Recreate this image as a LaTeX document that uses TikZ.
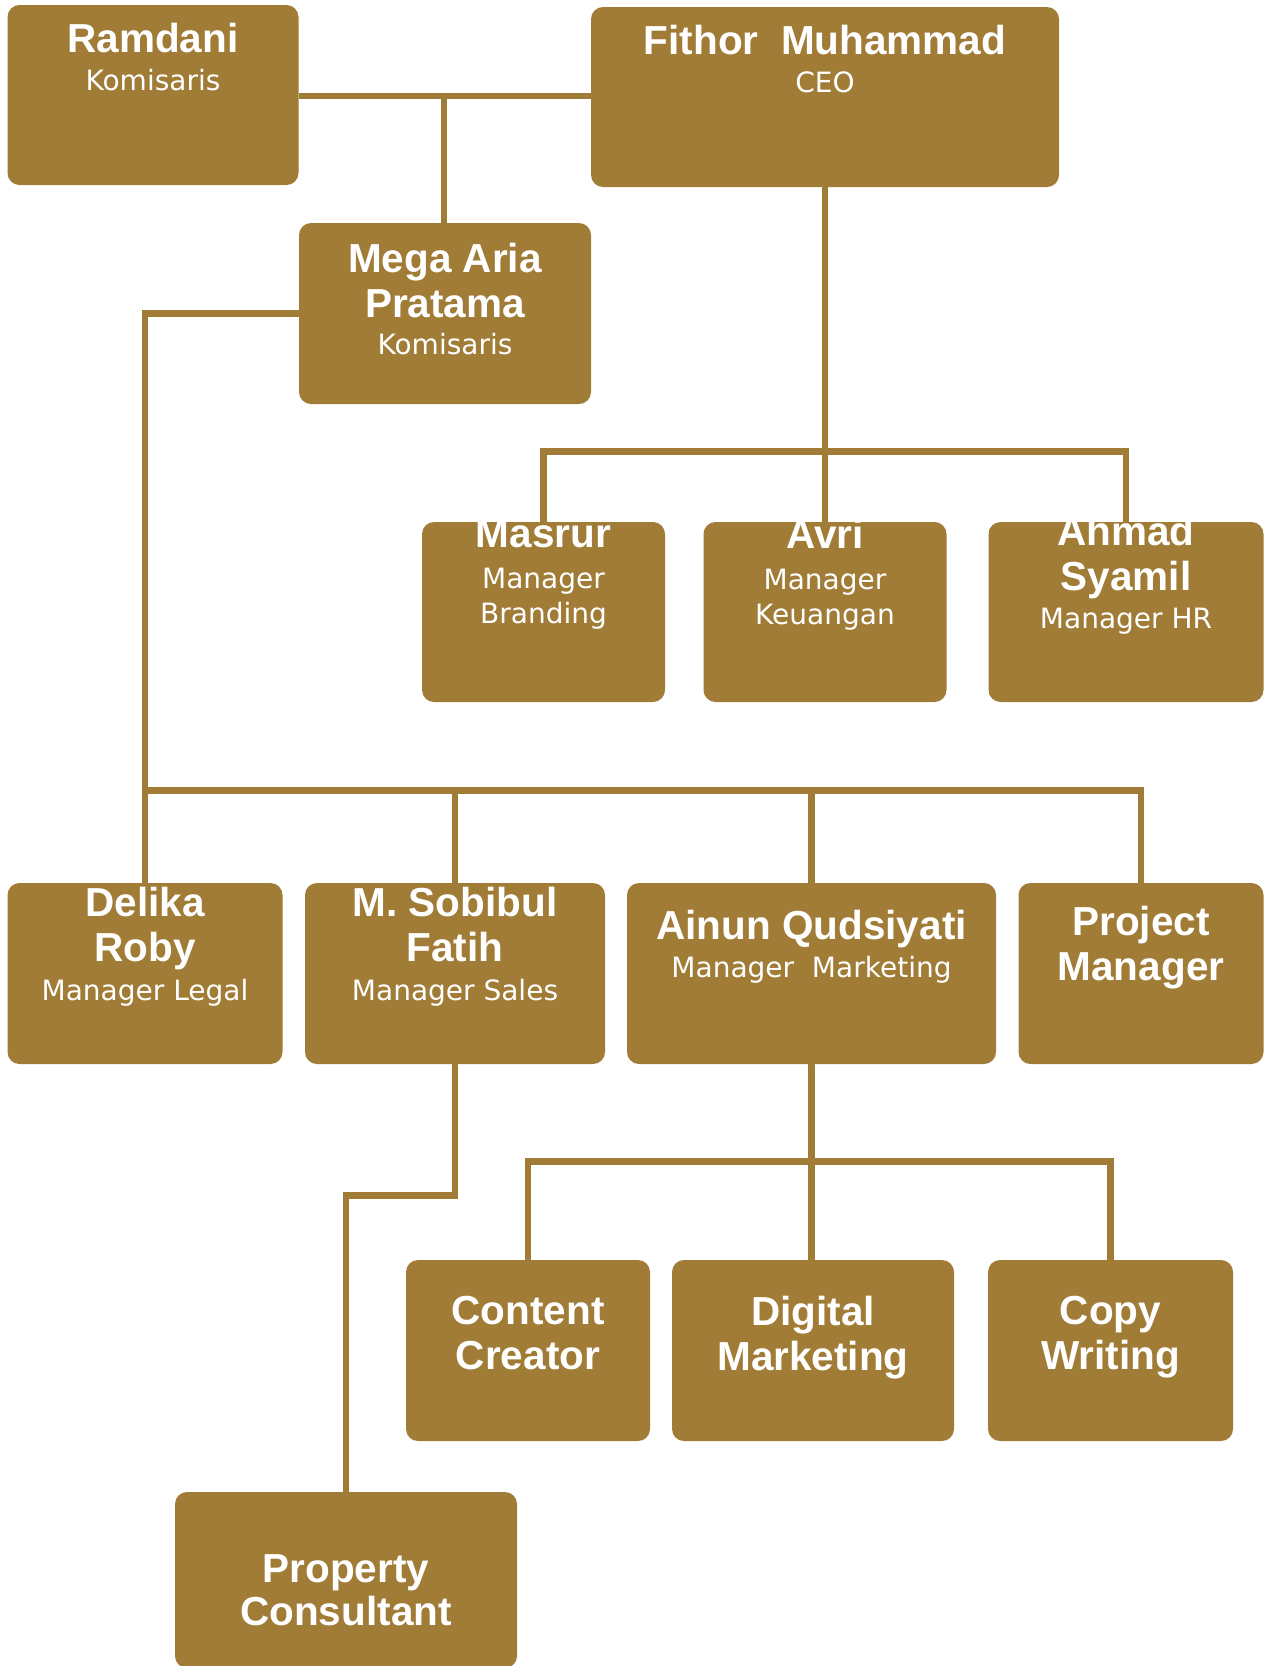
\documentclass[tikz,border=0pt]{standalone}
\usepackage{fontspec}
\usetikzlibrary{positioning}
\newfontfamily\namafam{Liberation Sans}
\newfontfamily\jabfam{DejaVu Sans}
\definecolor{emas}{RGB}{160,124,55}
\newcommand\jab{\jabfam\mdseries\fontsize{28}{36}\selectfont}

\begin{document}
\begin{tikzpicture}[
  kotak/.style={rectangle, rounded corners=12pt, fill=emas, draw=none, inner sep=0pt},
  teks/.style={align=center, text=white, inner sep=0pt, font=\namafam\bfseries\fontsize{40.5}{45}\selectfont},
  garis/.style={line width=6.5pt, color=emas}]
\useasboundingbox (0pt,0pt) rectangle (1271pt,-1666pt);
% kotak-kotak
\node (ramdani) [kotak, minimum width=291pt, minimum height=180pt] at (153pt, -95pt) {};
\node (fithor) [kotak, minimum width=468pt, minimum height=180pt] at (825pt, -97pt) {};
\node (mega) [kotak, minimum width=292pt, minimum height=181pt] at (445pt, -313.5pt) {};
\node (masrur) [kotak, minimum width=243pt, minimum height=180pt] at (543.5pt, -612pt) {};
\node (avri) [kotak, minimum width=243pt, minimum height=180pt] at (825pt, -612pt) {};
\node (ahmad) [kotak, minimum width=275pt, minimum height=180pt] at (1126pt, -612pt) {};
\node (delika) [kotak, minimum width=275pt, minimum height=181pt] at (145pt, -973.5pt) {};
\node (sobibul) [kotak, minimum width=300pt, minimum height=181pt] at (455pt, -973.5pt) {};
\node (ainun) [kotak, minimum width=369pt, minimum height=181pt] at (811.5pt, -973.5pt) {};
\node (project) [kotak, minimum width=245pt, minimum height=181pt] at (1141pt, -973.5pt) {};
\node (content) [kotak, minimum width=244pt, minimum height=181pt] at (528pt, -1350.5pt) {};
\node (digital) [kotak, minimum width=282pt, minimum height=181pt] at (813pt, -1350.5pt) {};
\node (copy) [kotak, minimum width=245pt, minimum height=181pt] at (1110.5pt, -1350.5pt) {};
\node (property) [kotak, minimum width=342pt, minimum height=176pt] at (346pt, -1580pt) {};
% teks
\node (ramdani-t) [teks, below=18pt of ramdani.north] {Ramdani\\[-7pt]\jab Komisaris};
\node (fithor-t) [teks, below=18pt of fithor.north] {Fithor~~Muhammad\\[-7pt]\jab CEO};
\node (mega-t) [teks, below=20pt of mega.north] {Mega Aria\\Pratama\\[-8pt]\jab Komisaris};
\node (masrur-t) [teks, below=-2.5pt of masrur.north] {Masrur\\[-4pt]\jab Manager\\[-10pt]\jab Branding};
\node (avri-t) [teks, below=-2.5pt of avri.north] {Avri\\[-4pt]\jab Manager\\[-10pt]\jab Keuangan};
\node (ahmad-t) [teks, below=-6pt of ahmad.north] {Ahmad\\Syamil\\[-7pt]\jab Manager HR};
\node (delika-t) [teks, below=4pt of delika.north] {Delika\\Roby\\[-6pt]\jab Manager Legal};
\node (sobibul-t) [teks, below=4pt of sobibul.north] {M. Sobibul\\Fatih\\[-6pt]\jab Manager Sales};
\node (ainun-t) [teks, below=27pt of ainun.north] {Ainun Qudsiyati\\[-7pt]\jab Manager~~Marketing};
\node (project-t) [teks, below=23pt of project.north] {Project\\Manager};
\node (content-t) [teks, below=36pt of content.north] {Content\\Creator};
\node (digital-t) [teks, below=36pt of digital.north] {Digital\\Marketing};
\node (copy-t) [teks, below=36pt of copy.north] {Copy\\Writing};
\node (property-t) [teks, below=63pt of property.north] {Property\\[-2pt]Consultant};
% garis
\coordinate (simpul1) at (444pt, -96pt);
\draw [garis] (ramdani.east |- simpul1) -- (fithor.west |- simpul1);
\draw [garis] (simpul1) -- (simpul1 |- mega.north);
\draw [garis] (mega.west) -| (delika.north);
\draw [garis] (fithor.south) -- (avri.north);
\coordinate (simpul2) at (825pt, -451.6pt);
\draw [garis] (masrur.north) |- (simpul2) -| (ahmad.north);
\coordinate (simpul3) at (145pt, -790.6pt);
\draw [garis] (simpul3) -| (project.north);
\draw [garis] (sobibul.north) -- (sobibul.north |- simpul3);
\draw [garis] (ainun.north) -- (ainun.north |- simpul3);
\coordinate (simpul4) at (0pt, -1195.5pt);
\draw [garis] (sobibul.south) -- (sobibul.south |- simpul4) -| (property.north);
\draw [garis] (ainun.south) -- (ainun.south |- digital.north);
\coordinate (simpul5) at (812pt, -1161.5pt);
\draw [garis] (content.north) |- (simpul5) -| (copy.north);
\end{tikzpicture}
\end{document}
